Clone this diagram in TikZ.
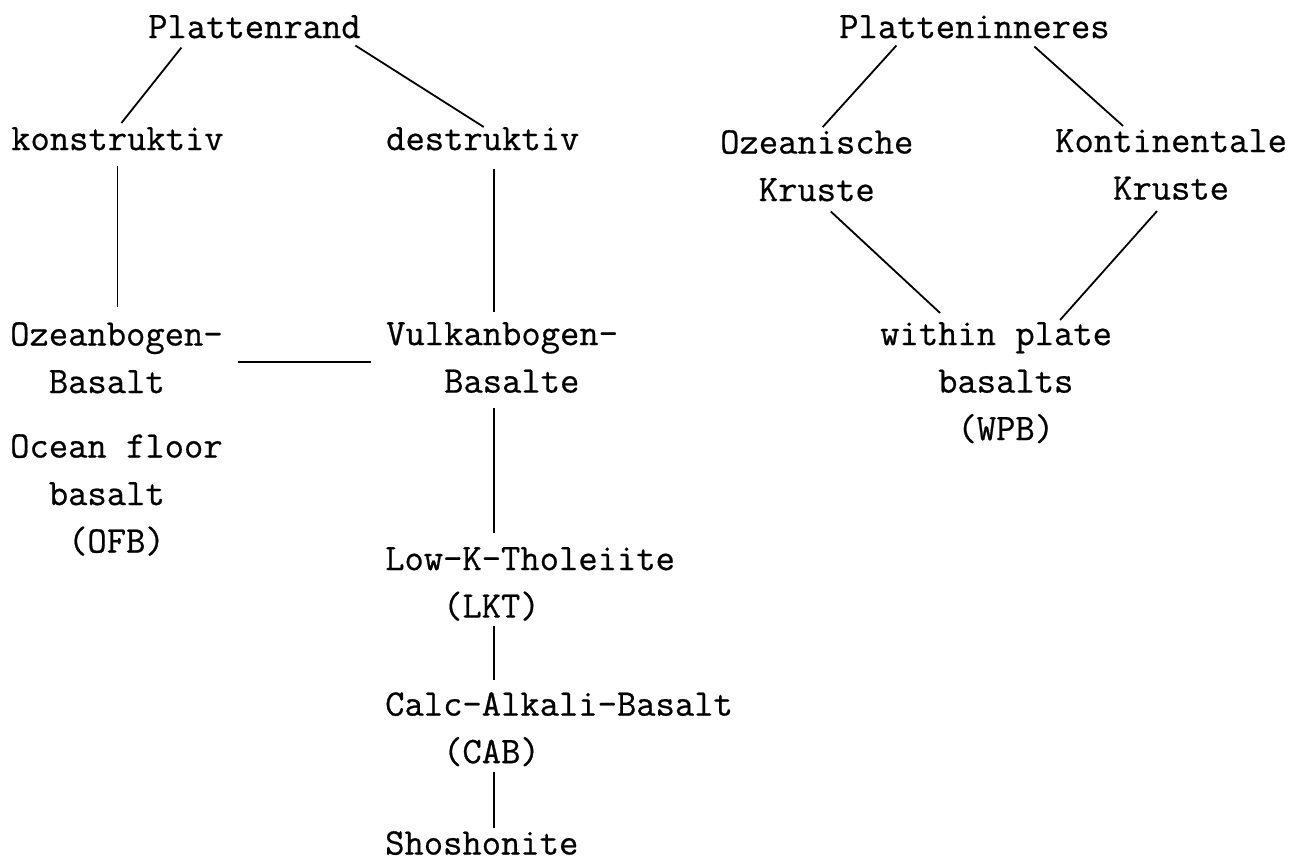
\documentclass[tikz,border=0pt]{standalone}
\usepackage{fontspec}
\setmonofont{Latin Modern Mono}[FakeBold=0.6]
\begin{document}
\begin{tikzpicture}[x=1pt,y=-1pt,
  lbl/.style={font=\ttfamily\fontsize{37.5}{47.5}\selectfont, inner sep=0pt,
    anchor=north west, align=left},
  conn/.style={line width=1.8pt}]
\useasboundingbox (0,0) rectangle (1302,861);

% Plattenrand
\node[lbl] (rand) at (148,15) {Plattenrand};
\node[lbl] (kon) at (11,127) {konstruktiv};
\node[lbl] (des) at (386,127) {destruktiv};
\node[lbl] (ozb) at (10,322) {Ozeanbogen-\\\ \ Basalt};
\node[lbl] (vub) at (386,322) {Vulkanbogen-\\\ \ \ Basalte};
\node[lbl] (ofb) at (10,434) {Ocean floor\\\ \ basalt\\\ \ \ (OFB)};
\node[lbl] (lkt) at (385,547) {Low-K-Tholeiite\\\ \ \ (LKT)};
\node[lbl] (cab) at (385,692) {Calc-Alkali-Basalt\\\ \ \ (CAB)};
\node[lbl] (sho) at (385,831) {Shoshonite};

% Platteninneres
\node[lbl] (inner) at (839,15) {Platteninneres};
\node[lbl] (ozk) at (720,130) {Ozeanische\\\ \ Kruste};
\node[lbl] (kok) at (1055,129) {Kontinentale\\\ \ \ Kruste};
\node[lbl] (wpb) at (880,322) {within plate\\\ \ \ basalts\\\ \ \ \ (WPB)};

\coordinate (axis) at (494,0);

\draw[conn] ([shift={(-73,9)}]rand.south) -- ([shift={(4,-4)}]kon.north);
\draw[conn] ([shift={(101,7)}]rand.south) -- ([shift={(1,0)}]des.north);
\draw[conn] ([yshift=-15pt]kon.south) -- ([yshift=15pt]kon.south |- ozb.north);
\draw[conn, shorten <=18pt, shorten >=10pt] (des.south -| axis) -- (vub.north -| axis);
\draw[conn, shorten <=15pt, shorten >=15pt] ([yshift=-4pt]ozb.east) -- ([yshift=-4pt]ozb.east -| vub.west);
\draw[conn, shorten <=15pt, shorten >=14pt] (vub.south -| axis) -- (lkt.north -| axis);
\draw[conn, shorten <=5pt, shorten >=12pt] (lkt.south -| axis) -- (cab.north -| axis);
\draw[conn, shorten <=6pt, shorten >=3pt] (cab.south -| axis) -- (sho.north -| axis);

\draw[conn] ([shift={(-78,7)}]inner.south) -- ([shift={(6,-3)}]ozk.north);
\draw[conn] ([shift={(60,8)}]inner.south) -- ([shift={(-48,-3)}]kok.north);
\draw[conn] ([shift={(14,10)}]ozk.south) -- ([shift={(-56,-9)}]wpb.north);
\draw[conn] ([shift={(-14,11)}]kok.south) -- ([shift={(64,-2)}]wpb.north);
\end{tikzpicture}
\end{document}
